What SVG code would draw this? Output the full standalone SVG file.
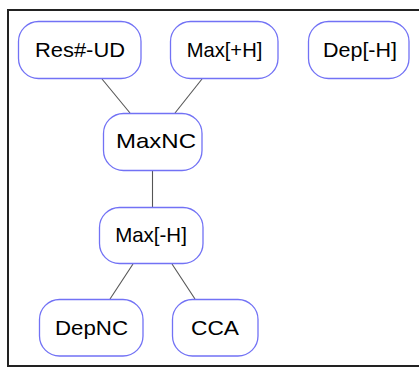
<svg xmlns="http://www.w3.org/2000/svg" width="419" height="369" viewBox="0 0 419 369">
<style>
.node rect{fill:#fff;stroke:#7272f5;stroke-width:1.3}
.node text{font-family:"Liberation Sans",Arial,sans-serif;font-size:21px;fill:#000;text-anchor:middle}
.edges line{stroke:#555;stroke-width:1.1}
</style>
<rect x="0" y="0" width="419" height="369" fill="#fff"/>
<rect x="8" y="10" width="420" height="356" fill="none" stroke="#222" stroke-width="2"/>
<g id="edges" class="edges">
<line x1="102" y1="79" x2="130" y2="113"/>
<line x1="202" y1="79" x2="175" y2="113"/>
<line x1="152.5" y1="171" x2="152.5" y2="207"/>
<line x1="133" y1="264" x2="110" y2="299"/>
<line x1="172" y1="264" x2="195" y2="299"/>
</g>
<g id="n-resud" class="node"><rect x="18.5" y="21.5" width="122.5" height="57" rx="20"/><text x="80" y="56.7" textLength="90" lengthAdjust="spacingAndGlyphs">Res#-UD</text></g>
<g id="n-maxph" class="node"><rect x="170.5" y="21.5" width="107.5" height="57" rx="20"/><text x="224.5" y="56.7" textLength="75.6" lengthAdjust="spacingAndGlyphs">Max[+H]</text></g>
<g id="n-depmh" class="node"><rect x="308.5" y="21.5" width="100.5" height="57" rx="20"/><text x="360" y="56.7" textLength="74" lengthAdjust="spacingAndGlyphs">Dep[-H]</text></g>
<g id="n-maxnc" class="node"><rect x="103.5" y="113.5" width="98.5" height="57" rx="20"/><text x="156" y="148" textLength="80" lengthAdjust="spacingAndGlyphs">MaxNC</text></g>
<g id="n-maxmh" class="node"><rect x="99.5" y="207.5" width="103.5" height="56" rx="20"/><text x="151" y="241.7" textLength="71.7" lengthAdjust="spacingAndGlyphs">Max[-H]</text></g>
<g id="n-depnc" class="node"><rect x="39.5" y="299.5" width="103.5" height="56.5" rx="20"/><text x="91.5" y="334.5" textLength="73" lengthAdjust="spacingAndGlyphs">DepNC</text></g>
<g id="n-cca" class="node"><rect x="172.5" y="299.5" width="85.5" height="56.5" rx="20"/><text x="215" y="334.5" textLength="48" lengthAdjust="spacingAndGlyphs">CCA</text></g>
</svg>
